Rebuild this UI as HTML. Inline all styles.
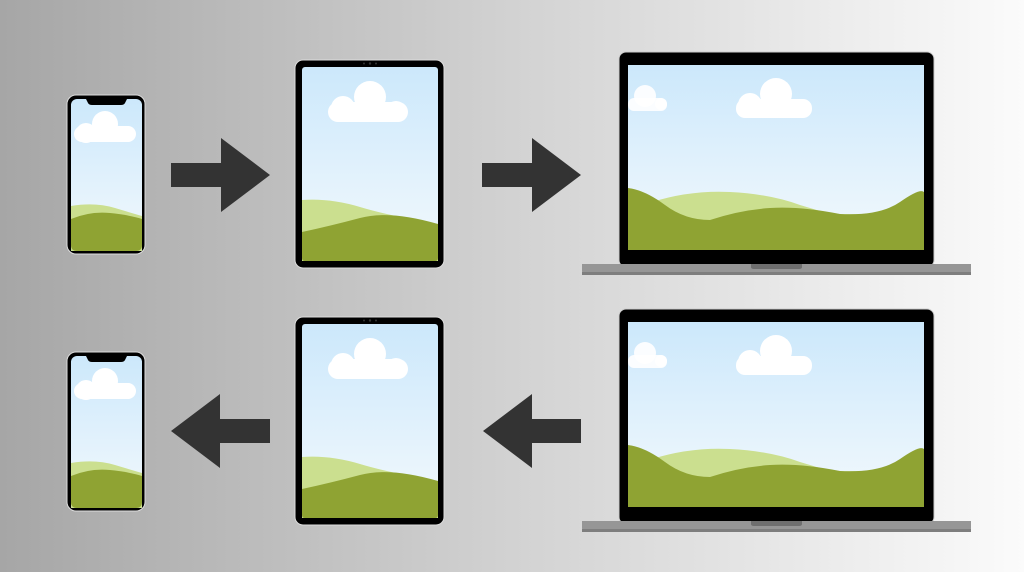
<!DOCTYPE html>
<html><head><meta charset="utf-8"><style>html,body{margin:0;padding:0}body{width:1024px;height:572px;overflow:hidden}</style></head>
<body>
<svg width="1024" height="572" viewBox="0 0 1024 572" xmlns="http://www.w3.org/2000/svg">
<defs>
<linearGradient id="bg" x1="0" y1="0" x2="1" y2="0"><stop offset="0" stop-color="#a6a6a6"/><stop offset="0.5" stop-color="#d2d2d2"/><stop offset="1" stop-color="#fbfbfb"/></linearGradient>
<linearGradient id="sky" x1="0" y1="0" x2="0" y2="1"><stop offset="0" stop-color="#cce8fb"/><stop offset="1" stop-color="#f3f9fd"/></linearGradient>
<g id="phone">
<rect x="67" y="95" width="78" height="159" rx="9" fill="#000" stroke="#ddd" stroke-width="1"/>
<rect x="71" y="99" width="71" height="152" rx="6" fill="url(#sky)"/>
<path d="M71 206 Q95 202 115 208 T142 216 L142 251 L71 251Z" fill="#cbdf8f"/>
<path d="M71 219 Q90 211 110 213 T142 219 L142 245 Q142 251 136 251 L77 251 Q71 251 71 245Z" fill="#8fa333"/>
<path d="M86 99 L127 99 L125 103 Q124 105 121 105 L92 105 Q89 105 88 103Z" fill="#000"/>
<g fill="#fff"><circle cx="105" cy="124" r="13"/><circle cx="86" cy="133" r="10"/><circle cx="127" cy="134" r="8"/><rect x="74" y="126" width="62" height="16" rx="8"/></g>
</g>
<g id="tablet">
<rect x="295" y="60" width="149" height="208" rx="8" fill="#000" stroke="#ddd" stroke-width="1"/>
<rect x="302" y="67" width="136" height="194" rx="3" fill="url(#sky)"/>
<path d="M302 200 Q330 198 360 207 T438 224 L438 261 L302 261Z" fill="#cbdf8f"/>
<path d="M302 232 Q330 226 360 218 T438 224 L438 258 Q438 261 435 261 L305 261 Q302 261 302 258Z" fill="#8fa333"/>
<g fill="#333"><circle cx="364" cy="63.5" r="1"/><circle cx="370" cy="63.5" r="1.2"/><circle cx="376" cy="63.5" r="1"/></g>
<g fill="#fff"><circle cx="370" cy="97" r="16"/><circle cx="343" cy="108" r="12"/><circle cx="396" cy="111" r="10"/><rect x="328" y="102" width="80" height="20" rx="10"/></g>
</g>
<g id="laptop">
<rect x="619" y="52" width="315" height="215" rx="7" fill="#000" stroke="#ccc" stroke-width="1"/>
<rect x="628" y="65" width="296" height="185" fill="url(#sky)"/>
<path d="M652 202 Q690 190 730 192 T800 205 L830 214 L924 215 L924 250 L628 250Z" fill="#cbdf8f"/>
<path d="M628 188 Q645 190 665 205 T710 220 Q740 210 770 208 T840 214 Q880 216 900 202 T924 192 L924 250 L628 250Z" fill="#8fa333"/>
<g fill="#fff"><circle cx="776" cy="94" r="16"/><circle cx="750" cy="105" r="12"/><circle cx="800" cy="108" r="9"/><rect x="736" y="99" width="76" height="19" rx="9"/>
<circle cx="645" cy="96" r="11" opacity="0.9"/><circle cx="661" cy="104" r="6" opacity="0.9"/><rect x="628" y="98" width="39" height="13" rx="6" opacity="0.9"/></g>
<path d="M582 264 L971 264 L971 271 Q971 275 965 275 L588 275 Q582 275 582 271Z" fill="#969696"/>
<rect x="582" y="272" width="389" height="3" fill="#7e7e7e"/>
<path d="M751 264 L802 264 L802 267 Q802 269 799 269 L754 269 Q751 269 751 267Z" fill="#6f6f6f"/>
</g>
</defs>
<rect width="1024" height="572" fill="url(#bg)"/>
<use href="#phone"/><use href="#tablet"/><use href="#laptop"/>
<g transform="translate(0,257)"><use href="#phone"/><use href="#tablet"/><use href="#laptop"/></g>
<g fill="#333">
<path d="M171 163 L221 163 L221 138 L270 175 L221 212 L221 187 L171 187Z"/>
<path d="M482 163 L532 163 L532 138 L581 175 L532 212 L532 187 L482 187Z"/>
<path d="M270 419 L220 419 L220 394 L171 431 L220 468 L220 443 L270 443Z"/>
<path d="M581 419 L532 419 L532 394 L483 431 L532 468 L532 443 L581 443Z"/>
</g>
</svg>
</body></html>
